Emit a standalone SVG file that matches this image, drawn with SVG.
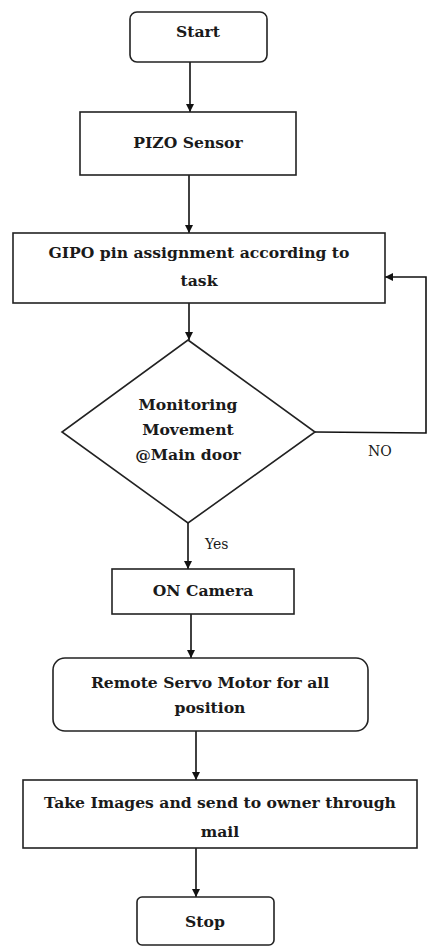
<svg xmlns="http://www.w3.org/2000/svg" width="427" height="947" viewBox="0 0 427 947">
<defs>
<marker id="ah" viewBox="0 0 10 10" refX="10" refY="5" markerWidth="8" markerHeight="8" markerUnits="userSpaceOnUse" orient="auto">
<path d="M0,0 L10,5 L0,10 z" fill="#111"/>
</marker>
<style>
.box{fill:#fff;stroke:#222;stroke-width:1.6}
.t{font-family:"DejaVu Serif","Liberation Serif",serif;font-weight:bold;font-size:15.6px;fill:#1a1a1a;text-anchor:middle}
.l{font-family:"DejaVu Serif","Liberation Serif",serif;font-size:14px;fill:#1a1a1a}
.c{fill:none;stroke:#111;stroke-width:1.6}
</style>
</defs>
<rect width="427" height="947" fill="#fff"/>
<g id="connectors">
<line class="c" x1="190" y1="62" x2="190" y2="112" marker-end="url(#ah)"/>
<line class="c" x1="189" y1="175" x2="189" y2="233" marker-end="url(#ah)"/>
<line class="c" x1="189" y1="303" x2="189" y2="340" marker-end="url(#ah)"/>
<polyline class="c" points="315,432 426,433 426,277 385,277" marker-end="url(#ah)"/>
<line class="c" x1="188" y1="523" x2="188" y2="569" marker-end="url(#ah)"/>
<line class="c" x1="191" y1="614" x2="191" y2="658" marker-end="url(#ah)"/>
<line class="c" x1="196" y1="731" x2="196" y2="780" marker-end="url(#ah)"/>
<line class="c" x1="196" y1="848" x2="196" y2="897" marker-end="url(#ah)"/>
<text class="l" x="368" y="456">NO</text>
<text class="l" x="205" y="549">Yes</text>
</g>
<g id="start">
<rect class="box" x="130" y="12" width="137" height="50" rx="7"/>
<text class="t" x="198" y="37">Start</text>
</g>
<g id="pizo">
<rect class="box" x="80" y="112" width="216" height="63"/>
<text class="t" x="188" y="148">PIZO Sensor</text>
</g>
<g id="gipo">
<rect class="box" x="13" y="233" width="372" height="70"/>
<text class="t" x="199" y="258">GIPO pin assignment according to</text>
<text class="t" x="199" y="286">task</text>
</g>
<g id="monitor">
<polygon class="box" points="188,340 315,432 188,523 62,432"/>
<text class="t" x="188" y="410">Monitoring</text>
<text class="t" x="188" y="435">Movement</text>
<text class="t" x="188" y="460">@Main door</text>
</g>
<g id="camera">
<rect class="box" x="112" y="569" width="182" height="45"/>
<text class="t" x="203" y="596">ON Camera</text>
</g>
<g id="servo">
<rect class="box" x="53" y="658" width="315" height="73" rx="12"/>
<text class="t" x="210" y="688">Remote Servo Motor for all</text>
<text class="t" x="210" y="713">position</text>
</g>
<g id="images">
<rect class="box" x="23" y="780" width="394" height="68"/>
<text class="t" x="220" y="808">Take Images and send to owner through</text>
<text class="t" x="220" y="837">mail</text>
</g>
<g id="stop">
<rect class="box" x="137" y="897" width="137" height="48" rx="5"/>
<text class="t" x="205" y="927">Stop</text>
</g>
</svg>
